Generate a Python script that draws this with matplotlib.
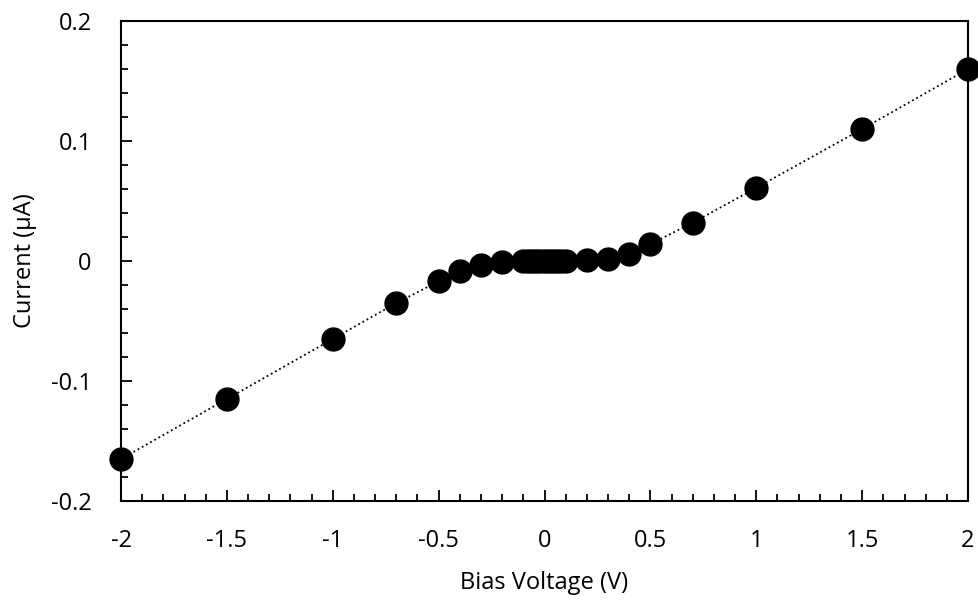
import numpy as np
import matplotlib.pyplot as plt
from matplotlib.ticker import MultipleLocator

plt.rcParams['font.family'] = ['Open Sans', 'DejaVu Sans']

voltage = [-2, -1.5, -1, -0.7, -0.5, -0.4, -0.3, -0.2,
           -0.1, -0.08, -0.06, -0.04, -0.02, 0, 0.02, 0.04, 0.06, 0.08, 0.1,
           0.2, 0.3, 0.4, 0.5, 0.7, 1, 1.5, 2]
current = [-0.165, -0.115, -0.065, -0.035, -0.017, -0.008, -0.003, -0.001,
           -0.0004, -0.0003, -0.0002, -0.0001, -0.00005, 0, 0.00005, 0.0001, 0.0002, 0.0003, 0.0004,
           0.001, 0.002, 0.006, 0.014, 0.032, 0.061, 0.11, 0.16]

fig = plt.figure(figsize=(9.79, 6.01), dpi=100)
ax = fig.add_axes([0.1236, 0.1664, 0.8652, 0.7986])

ax.plot(voltage, current, color='black', linestyle=':', linewidth=1.3,
        marker='o', markersize=16.5, markerfacecolor='black', markeredgecolor='black',
        clip_on=False, zorder=3)

ax.set_xlim(-2, 2)
ax.set_ylim(-0.2, 0.2)
ax.xaxis.set_major_locator(MultipleLocator(0.5))
ax.xaxis.set_minor_locator(MultipleLocator(0.1))
ax.yaxis.set_major_locator(MultipleLocator(0.1))
ax.yaxis.set_minor_locator(MultipleLocator(0.02))
ax.xaxis.set_major_formatter(plt.FuncFormatter(lambda v, p: f'{v:g}'))
ax.yaxis.set_major_formatter(plt.FuncFormatter(lambda v, p: f'{v:g}'))

ax.tick_params(which='both', direction='in', width=1.3, labelsize=17, colors='black')
ax.tick_params(which='major', length=8)
ax.tick_params(which='minor', length=5)
ax.tick_params(axis='x', which='major', pad=20)
ax.tick_params(axis='y', which='major', pad=21)

for s in ax.spines.values():
    s.set_linewidth(1.5)

ax.set_xlabel('Bias Voltage (V)', fontsize=17, labelpad=13)
ax.set_ylabel('Current (µA)', fontsize=17, labelpad=10)

fig.savefig('out.png', dpi=100)
